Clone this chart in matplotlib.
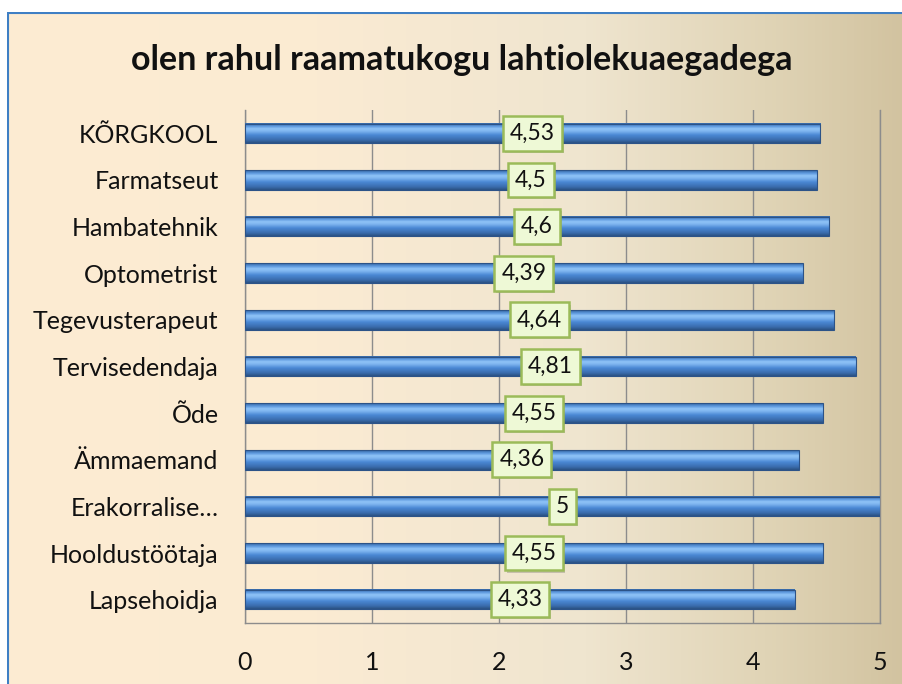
import numpy as np
import matplotlib
matplotlib.use("Agg")
import matplotlib.pyplot as plt
import matplotlib.patheffects as pe
from matplotlib.colors import LinearSegmentedColormap
from matplotlib.patches import Rectangle

# andmed (alt üles)
categories = ["Lapsehoidja", "Hooldustöötaja", "Erakorralise…", "Ämmaemand", "Õde",
              "Tervisedendaja", "Tegevusterapeut", "Optometrist", "Hambatehnik",
              "Farmatseut", "KÕRGKOOL"]
values = [4.33, 4.55, 5, 4.36, 4.55, 4.81, 4.64, 4.39, 4.6, 4.5, 4.53]
label_texts = ["4,33", "4,55", "5", "4,36", "4,55", "4,81", "4,64", "4,39", "4,6", "4,5", "4,53"]
xticks = [0, 1, 2, 3, 4, 5]

plt.rcParams['font.family'] = ['Lato', 'DejaVu Sans']

fig = plt.figure(figsize=(9.03, 6.84), dpi=100)
fig.patch.set_facecolor("white")

# taust: horisontaalne gradient
bg = fig.add_axes([0, 0, 1, 1], zorder=0)
bg_cmap = LinearSegmentedColormap.from_list(
    "bg", [(0, "#fdebd2"), (0.35, "#fbebd3"), (0.65, "#efe5cf"), (0.85, "#e0d4b6"), (1, "#d2c3a0")])
grad = np.linspace(0, 1, 256).reshape(1, -1)
bg.imshow(grad, cmap=bg_cmap, aspect="auto", extent=[0, 1, 0, 1], origin="lower")
bg.set_xlim(0, 1)
bg.set_ylim(0, 1)
bg.axis("off")
# raam
bg.add_patch(Rectangle((8 / 903, -0.05), 1.1, 1 - 13 / 684 + 0.05, fill=False,
                       edgecolor="#3f7fc4", linewidth=1.5, transform=bg.transAxes))
bg.add_patch(Rectangle((0, 1 - 12 / 684), 1, 12 / 684, facecolor="white", edgecolor="none"))
bg.add_patch(Rectangle((0, 0), 7 / 903, 1, facecolor="white", edgecolor="none"))

ax = fig.add_axes([245 / 903, 1 - 623 / 684, 635 / 903, 513 / 684], zorder=1)
ax.patch.set_alpha(0)

y = np.arange(len(categories))
bar_h = 0.42

bar_cmap = LinearSegmentedColormap.from_list(
    "bar", [(0, "#2b5283"), (0.15, "#3a6cad"), (0.4, "#4a88d4"), (0.6, "#7fb5f0"),
            (0.72, "#8fc3f7"), (0.85, "#5d98dd"), (1, "#3466a3")])
vgrad = np.linspace(0, 1, 64).reshape(-1, 1)

for yi, v in zip(y, values):
    ax.imshow(vgrad, cmap=bar_cmap, aspect="auto", origin="lower",
              extent=[0, v, yi - bar_h / 2, yi + bar_h / 2], zorder=3)
    ax.add_patch(Rectangle((0, yi - bar_h / 2), v, bar_h, fill=False,
                           edgecolor="#2c5388", linewidth=0.8, zorder=4))

for yi, v, t in zip(y, values, label_texts):
    txt = ax.text(v / 2, yi, t, ha="center", va="center", fontsize=16.5, color="#111111", zorder=6,
                  bbox=dict(boxstyle="square,pad=0.3", facecolor="#eef9d6",
                            edgecolor="#9bbb59", linewidth=1.8))
    txt.get_bbox_patch().set_path_effects(
        [pe.SimplePatchShadow(offset=(1.5, -1.5), alpha=0.25), pe.Normal()])

ax.set_xlim(0, 5)
ax.set_ylim(-0.5, 10.5)
ax.set_xticks(xticks)
ax.set_xticklabels([str(t) for t in xticks])
ax.set_yticks(y)
ax.set_yticklabels(categories)
ax.tick_params(axis="both", length=0, labelsize=18, colors="#111111")
ax.tick_params(axis="x", pad=20)
ax.tick_params(axis="y", pad=19)
ax.grid(axis="x", color="#8c8c8c", linewidth=1.0, zorder=1)
ax.set_axisbelow(True)
ax.spines["top"].set_visible(False)
for side in ["left", "bottom", "right"]:
    ax.spines[side].set_color("#8c8c8c")
    ax.spines[side].set_linewidth(1.0)

fig.text(462 / 903, 1 - 60 / 684, "olen rahul raamatukogu lahtiolekuaegadega",
         ha="center", va="center", fontsize=24.5, fontweight="bold", color="#111111", zorder=5)

fig.savefig("out.png", dpi=100)
